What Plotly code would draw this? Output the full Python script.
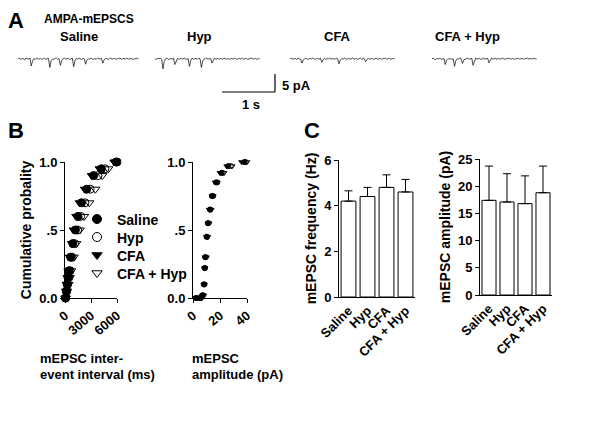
import plotly.graph_objects as go

W, H = 600, 435
def px(x): return x / W
def py(y): return 1 - y / H

groups = ["Saline", "Hyp", "CFA", "CFA + Hyp"]
freq = [4.2, 4.4, 4.8, 4.6]
freq_err = [0.45, 0.4, 0.55, 0.55]
amp = [17.4, 17.1, 16.8, 18.8]
amp_err = [6.3, 5.2, 5.1, 4.9]

# cumulative probability data (inter-event interval, ms)
iei_p = [0.0, 0.05, 0.1, 0.15, 0.2, 0.3, 0.4, 0.5, 0.6, 0.7, 0.8, 0.9, 0.95, 1.0]
iei_saline = [50, 150, 250, 350, 450, 650, 900, 1200, 1500, 1900, 2500, 3300, 4200, 5900]
iei_hyp = [80, 200, 300, 450, 600, 800, 1100, 1450, 1800, 2300, 2900, 3800, 4600, 6000]
iei_cfa = [40, 120, 200, 300, 400, 550, 800, 1000, 1300, 1700, 2300, 3100, 4000, 5700]
iei_cfahyp = [100, 250, 400, 550, 700, 1000, 1300, 1700, 2200, 2800, 3500, 4300, 5000, 5900]
# amplitude (pA)
amp_p = [0.0, 0.0, 0.02, 0.1, 0.22, 0.3, 0.45, 0.55, 0.65, 0.75, 0.85, 0.92, 0.97, 1.0]
amp_saline = [2, 5, 7, 8, 8.5, 9, 10, 11, 12.5, 14, 17, 21, 26, 38]
amp_hyp = [3, 6, 7.5, 8.5, 9, 9.5, 10.5, 11.5, 13, 15, 18, 22, 28, 39]
amp_cfa = [2, 5, 7, 8, 8.5, 9, 10, 11, 12, 14, 16.5, 20, 25, 36]
amp_cfahyp = [3, 6, 8, 8.5, 9, 10, 11, 12, 13.5, 15, 18, 23, 29, 40]

# example traces (pA), sampled every 0.025 s
trace_saline = [0,0.2,-0.2,0.1,0,-0.3,0.2,0,-0.1,0.2,-2.0,-0.6,0.1,-0.2,0.2,0,-0.1,0.1,-0.2,0,0.2,-0.1,0,0.1,-2.4,-0.5,0,-0.2,0.1,0.2,-0.1,0,-1.8,-0.4,0,0.2,-0.1,0,0.1,-0.2,0,0.2,-2.2,-0.5,0.1,-0.1,0.2,0,-0.2,0.1,0,-1.5,-0.3,0,-0.1,0.2,0,-0.2,0.1,-0.2,0.2,0,-0.1,0.1,-1.2,-0.3,0.1,0,-0.2,0.1,0.2,-0.1,0,0.1,-0.2,0.1,0,0.2,-0.1,0,0.1,-0.2,0.2,0,-0.1,0.1,0,-0.2,0.1,0,0.2,-0.1]
trace_hyp = [0,-0.2,0.2,0,0.1,-0.1,-2.8,-0.7,0,0.2,-0.2,0,0.1,-0.1,0.2,-1.6,-0.4,0.1,-0.2,0.1,0,-0.1,0.2,0,-0.2,0.1,-2.1,-0.5,0.2,-0.1,0,0.1,-0.2,0.2,0,-2.4,-0.6,-0.1,0,0.2,-0.1,0,0.1,-1.2,-0.3,0.2,-0.2,0.1,0,-0.1,0.1,-0.2,0.2,0,-0.1,0.1,-0.2,0,0.1,-0.1,0.2,0,-0.2,0.1,0,-0.1,0.2,-0.1,0,0.1,-0.2,0,0.1,0.2,-0.1,0,0.1,-0.2,0.1,0]
trace_cfa = [0,0.2,-0.1,0,0.1,-0.2,0.2,0,-0.1,-1.2,-0.3,0,0.2,-0.2,0,0.1,-0.1,0.2,0,-0.2,0.1,0,-0.1,0.2,-1.0,-0.2,0.1,-0.2,0.1,0,0.2,-0.1,0,0.1,-0.2,0.2,0,-1.4,-0.3,0,-0.1,0.2,0,-0.2,0.1,0,-0.1,0.2,0,-0.1,0.1,-0.2,0,0.2,-0.1,0,0.1,-0.8,-0.2,0.2,-0.1,0,0.1,-0.2,0,0.2,-0.1,0,0.1,-0.2,0.1,0,0.2,-0.1,0,0.1,-0.2,0.1,0,0.1]
trace_cfahyp = [0,0.2,-0.2,0,0.1,-0.1,0.2,-0.2,0,0.1,-1.6,-0.4,0,-0.1,0.1,-0.2,0,-2.1,-0.5,0,-0.1,0.2,0,-1.3,-0.3,-0.2,0,0.2,-0.1,0,0.1,-1.8,-0.4,0.2,-0.1,0,0.1,-0.2,0,0.2,-0.1,0,0.1,-1.1,-0.3,0.2,-0.1,0,0.1,-0.2,0.1,0,-0.1,0.2,0,-0.2,0.1,0,0.2,-0.1,0,0.1,-0.2,0.1,0,0.2,-0.1,0,0.1,-0.2,0.1,0,0.2,-0.1,0,0.1,-0.1,0.2,0,-0.1]
dt = 0.025

fig = go.Figure()
font = dict(family="Liberation Sans", size=12, color="black")
BOLD = lambda s: f"<b>{s}</b>"

lay = dict(width=W, height=H, margin=dict(l=0, r=0, t=0, b=0, autoexpand=False), paper_bgcolor="white",
           plot_bgcolor="rgba(0,0,0,0)", showlegend=False, font=font)

trace_pos = [(18, 140), (155, 262), (290, 398), (432, 545)]
traces = [trace_saline, trace_hyp, trace_cfa, trace_cfahyp]
ai = 1
for (x0, x1), tr in zip(trace_pos, traces):
    xa = f"xaxis{ai}"; ya = f"yaxis{ai}"
    t = [i * dt for i in range(len(tr))]
    fig.add_trace(go.Scatter(x=t, y=tr, mode="lines", line=dict(color="black", width=0.7),
                             xaxis=f"x{ai}", yaxis=f"y{ai}"))
    span = (x1 - x0) / 53
    lay[xa] = dict(domain=[px(x0), px(x1)], range=[0, span], visible=False, anchor=f"y{ai}")
    lay[ya] = dict(domain=[py(72), py(50)], range=[-3.67, 2.44], visible=False, anchor=f"x{ai}")
    ai += 1

def axis_style(**kw):
    d = dict(showline=True, linecolor="black", linewidth=1, ticks="outside", ticklen=4,
             tickcolor="black", showgrid=False, zeroline=False, automargin=False,
             tickfont=dict(family="Liberation Sans", size=13, color="black"))
    d.update(kw)
    return d

markers = [("circle", "black"), ("circle-open", "black"), ("triangle-down", "black"), ("triangle-down-open", "black")]
iei = [iei_saline, iei_hyp, iei_cfa, iei_cfahyp]
amps = [amp_saline, amp_hyp, amp_cfa, amp_cfahyp]
for k in range(4):
    sym, col = markers[k]
    fig.add_trace(go.Scatter(x=iei[k], y=iei_p, mode="markers", xaxis="x5", yaxis="y5", cliponaxis=False,
                             marker=dict(symbol=sym, color=col, size=8, line=dict(color="black", width=1))))
    fig.add_trace(go.Scatter(x=amps[k], y=amp_p, mode="markers", xaxis="x6", yaxis="y6", cliponaxis=False,
                             marker=dict(symbol=sym, color=col, size=5, line=dict(color="black", width=1))))

ytk = dict(tickvals=[0, 0.5, 1.0], ticktext=[BOLD("0.0"), BOLD(".5"), BOLD("1.0")])
lay["xaxis5"] = axis_style(domain=[px(65), px(117)], range=[0, 6000], tickvals=[0, 3000, 6000],
                           ticktext=[BOLD(v) for v in ["0", "3000", "6000"]], tickangle=-40, anchor="y5")
lay["yaxis5"] = axis_style(domain=[py(298), py(162)], range=[0, 1.0], anchor="x5", **ytk,
                           title=dict(text=BOLD("Cumulative probality"), font=dict(size=14), standoff=4))
lay["xaxis6"] = axis_style(domain=[px(193), px(247)], range=[0, 40], tickvals=[0, 20, 40],
                           ticktext=[BOLD(v) for v in ["0", "20", "40"]], tickangle=-40, anchor="y6")
lay["yaxis6"] = axis_style(domain=[py(298), py(162)], range=[0, 1.0], anchor="x6", **ytk)

cat_text = [BOLD(g) for g in groups]
fig.add_trace(go.Bar(x=groups, y=freq, xaxis="x7", yaxis="y7", width=0.78,
                     marker=dict(color="white", line=dict(color="black", width=1)),
                     error_y=dict(type="data", array=freq_err, symmetric=False, arrayminus=[0]*4,
                                  color="black", thickness=1, width=4)))
fig.add_trace(go.Bar(x=groups, y=amp, xaxis="x8", yaxis="y8", width=0.78,
                     marker=dict(color="white", line=dict(color="black", width=1)),
                     error_y=dict(type="data", array=amp_err, symmetric=False, arrayminus=[0]*4,
                                  color="black", thickness=1, width=4)))
lay["xaxis7"] = axis_style(domain=[px(339), px(415)], ticks="", tickangle=-45, anchor="y7",
                           tickvals=groups, ticktext=cat_text)
lay["yaxis7"] = axis_style(domain=[py(297), py(160)], range=[0, 6], tickvals=[0, 2, 4, 6],
                           ticktext=[BOLD(v) for v in ["0", "2", "4", "6"]], anchor="x7",
                           title=dict(text=BOLD("mEPSC frequency (Hz)"), font=dict(size=14), standoff=4))
lay["xaxis8"] = axis_style(domain=[px(480), px(552)], ticks="", tickangle=-45, anchor="y8",
                           tickvals=groups, ticktext=cat_text)
lay["yaxis8"] = axis_style(domain=[py(295), py(159)], range=[0, 25], tickvals=[0, 5, 10, 15, 20, 25],
                           ticktext=[BOLD(str(v)) for v in [0, 5, 10, 15, 20, 25]], anchor="x8",
                           title=dict(text=BOLD("mEPSC amplitude (pA)"), font=dict(size=14), standoff=4))

fig.update_layout(**lay)

fig.add_shape(type="line", xref="paper", yref="paper", x0=px(222), x1=px(275), y0=py(92), y1=py(92),
              line=dict(color="black", width=1.2))
fig.add_shape(type="line", xref="paper", yref="paper", x0=px(275), x1=px(275), y0=py(92), y1=py(74),
              line=dict(color="black", width=1.2))

ann = [
    (6, 6, "A", 22, "left"), (6, 116, "B", 22, "left"), (302, 116, "C", 22, "left"),
    (42, 10, "AMPA-mEPSCS", 12, "left"), (58, 27, "Saline", 13, "left"),
    (185, 27, "Hyp", 13, "left"), (322, 27, "CFA", 13, "left"), (433, 27, "CFA + Hyp", 13, "left"),
    (280, 76, "5 pA", 13, "left"), (240, 95, "1 s", 13, "left"),
    (38, 349, "mEPSC inter-", 13, "left"), (38, 365, "event interval (ms)", 13, "left"),
    (190, 349, "mEPSC", 13, "left"), (190, 365, "amplitude (pA)", 13, "left"),
    (115, 210, "Saline", 14, "left"), (115, 228, "Hyp", 14, "left"),
    (115, 246, "CFA", 14, "left"), (115, 264, "CFA + Hyp", 14, "left"),
]
for x, y, t, s, al in ann:
    fig.add_annotation(xref="paper", yref="paper", x=px(x), y=py(y), text=BOLD(t), showarrow=False,
                       xanchor=al, yanchor="top", font=dict(family="Liberation Sans", size=s, color="black"))
for (sym, col), yy in zip(markers, [219, 237, 255, 273]):
    fig.add_trace(go.Scatter(x=[px(97)], y=[py(yy)], xaxis="x9", yaxis="y9", mode="markers",
                             marker=dict(symbol=sym, color=col, size=9, line=dict(color="black", width=1))))
fig.update_layout(xaxis9=dict(domain=[0, 1], range=[0, 1], visible=False, anchor="y9"),
                  yaxis9=dict(domain=[0, 1], range=[0, 1], visible=False, anchor="x9"))

fig.write_html("out.html", config={"displayModeBar": False},
               post_script="document.body.style.margin='0';")
